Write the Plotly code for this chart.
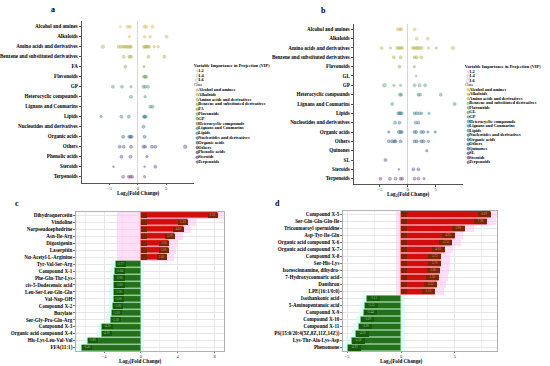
import plotly.graph_objects as go

FONT = "Liberation Serif"
W, H = 550, 366

# ---------------- data ----------------
a_classes = ["Alcohol and amines", "Alkaloids", "Amino acids and derivatives",
             "Benzene and substituted derivatives", "FA", "Flavonoids", "GP",
             "Heterocyclic compounds", "Lignans and Coumarins", "Lipids",
             "Nucleotides and derivatives", "Organic acids", "Others",
             "Phenolic acids", "Steroids", "Terpenoids"]
a_fc = [
    [-3.1, -1.8, -1.4, 1.2, 1.5, 2.6],
    [-1.5, 1.2, 2.2, 5.1],
    [-6.2, -3.4, -3.0, -2.6, -2.3, -2.0, -1.7, -1.4, -1.2, 1.1, 1.3, 1.5, 1.8, 2.0, 2.9, 3.6],
    [-2.5, -1.5, -1.2, 1.9, 4.7],
    [-2.2, 1.1],
    [1.1, 1.3, 1.5],
    [-4.4, -2.8, -1.2, 1.0, 1.3, 1.8],
    [-1.2, 1.3],
    [2.2, 2.6],
    [-6.5, -2.9, -1.6, 1.1, 1.2, 1.4],
    [1.0],
    [-2.6, -1.5, -1.3, -1.1, 1.2],
    [-3.2, -2.5, -1.2, 1.0, 1.3, 2.5, 3.1, 8.4],
    [-2.9, -1.3, 1.6],
    [-4.3, 1.2, 3.1],
    [-2.6, -1.6, -1.3, -1.0, 1.2],
]
a_vip = [
    [1.2, 1.4, 1.4, 1.4, 1.4, 1.4],
    [1.3, 1.3, 1.3, 1.4],
    [1.5, 1.4, 1.4, 1.4, 1.4, 1.4, 1.4, 1.4, 1.4, 1.4, 1.4, 1.4, 1.4, 1.4, 1.3, 1.3],
    [1.4, 1.4, 1.4, 1.4, 1.4],
    [1.4, 1.3],
    [1.4, 1.4, 1.4],
    [1.4, 1.4, 1.3, 1.4, 1.4, 1.4],
    [1.4, 1.3],
    [1.4, 1.4],
    [1.3, 1.4, 1.4, 1.4, 1.4, 1.4],
    [1.4],
    [1.4, 1.4, 1.4, 1.4, 1.4],
    [1.4, 1.4, 1.4, 1.4, 1.4, 1.4, 1.4, 1.5],
    [1.4, 1.4, 1.3],
    [1.2, 1.2, 1.4],
    [1.4, 1.4, 1.4, 1.4, 1.3],
]

b_classes = ["Alcohol and amines", "Alkaloids", "Amino acids and derivatives",
             "Benzene and substituted derivatives", "Flavonoids", "GL", "GP",
             "Heterocyclic compounds", "Lignans and Coumarins", "Lipids",
             "Nucleotides and derivatives", "Organic acids", "Others", "Quinones",
             "SL", "Steroids", "Terpenoids"]
b_fc = [
    [-1.8, -1.4, -1.2, 1.2],
    [1.6, 3.6],
    [-4.7, -3.1, -1.9, -1.6, -1.3, -1.0, 0.9, 1.2, 1.5, 1.8, 2.1, 2.5, 3.7, 5.1, 8.1],
    [-2.5, -1.3, 1.2, 1.6, 2.4],
    [-1.5, 1.2],
    [1.5],
    [-4.2, -2.5, -1.3, 1.2, 2.1, 3.1],
    [-1.4, -1.2, 1.9, 2.2, 5.9],
    [-2.8, 8.4],
    [-1.7, -1.5, -1.3, -1.1, 1.2, 1.6, 2.1, 2.5, 3.8],
    [-2.3, -1.5, 1.4, 1.9],
    [-3.4, -1.6, -1.3, -1.1, 1.2, 1.5, 2.4, 2.8, 3.6, 4.9],
    [-3.4, -2.8, -2.4, -2.2, -1.3, 1.2, 1.6, 2.4, 2.8, 3.7],
    [3.4],
    [-4.0],
    [-1.6, 1.0, 1.9],
    [-4.9, -3.2, -2.2, -1.3, -1.0, 1.2, 1.9, 2.9],
]
b_vip = [
    [1.4, 1.4, 1.4, 1.4],
    [1.4, 1.4],
    [1.4, 1.3, 1.4, 1.4, 1.4, 1.4, 1.4, 1.4, 1.4, 1.4, 1.4, 1.4, 1.3, 1.3, 1.5],
    [1.4, 1.4, 1.4, 1.4, 1.4],
    [1.4, 1.3],
    [1.2],
    [1.5, 1.3, 1.3, 1.4, 1.4, 1.4],
    [1.4, 1.4, 1.4, 1.4, 1.4],
    [1.4, 1.4],
    [1.4, 1.4, 1.4, 1.4, 1.4, 1.4, 1.4, 1.3, 1.3],
    [1.4, 1.4, 1.4, 1.4],
    [1.3, 1.4, 1.4, 1.4, 1.4, 1.4, 1.4, 1.4, 1.3, 1.3],
    [1.4, 1.4, 1.4, 1.4, 1.4, 1.4, 1.4, 1.4, 1.4, 1.3],
    [1.3],
    [1.4],
    [1.2, 1.4, 1.4],
    [1.4, 1.4, 1.4, 1.4, 1.4, 1.4, 1.4, 1.3],
]

vip_levels = [1.2, 1.4, 1.6]

c_names = ["Dihydroquercetin", "Vindoline", "Norpseudoephedrine", "Asn-Ile-Arg",
           "Digoxigenin", "Laserpitin", "Nα-Acetyl-L-Arginine", "Tyr-Val-Ser-Arg",
           "Compound X-1", "Phe-Gln-Thr-Lys", "cis-5-Dodecenoic acid",
           "Leu-Ser-Leu-Gln-Glu", "Val-Nap-OH", "Compound X-2", "Butylate",
           "Ser-Gly-Pro-Gln-Arg", "Compound X-3", "Organic acid compound X-4",
           "His-Lys-Leu-Val-Val", "FFA(11:1)"]
c_vals = [8.30, 5.10, 4.60, 3.70, 3.05, 3.00, 2.80, -2.77, -2.84, -2.90, -2.90,
          -2.95, -3.00, -3.02, -3.20, -3.30, -4.20, -4.30, -5.80, -6.40]

d_names = ["Compound X-5", "Ser-Gln-Gln-Gln-Ile", "Tricoumaroyl spermidine",
           "Asp-Tyr-Ile-Gln", "Organic acid compound X-6", "Organic acid compound X-7",
           "Compound X-8", "Ser-His-Lys", "Isorescinnamine, dihydro-",
           "7-Hydroxycoumaric acid", "Danthron", "LPE(16:1/0:0)", "Isothankonic acid",
           "5-Aminopentanoic acid", "Compound X-9", "Compound X-10", "Compound X-11",
           "PS(15:0/20:4(5Z,8Z,11Z,14Z))", "Lys-Thr-Ala-Lys-Asp", "Phenomone"]
d_vals = [8.29, 7.98, 5.90, 4.95, 4.74, 4.03, 3.72, 3.70, 3.60, 3.50, 3.35, 3.13,
          -3.13, -3.35, -3.44, -3.69, -3.90, -4.20, -4.58, -4.93]

# ---------------- styling helpers ----------------
anchors = ["#dcb04a", "#bdb142", "#93a944", "#639f5e", "#3f9475", "#368489",
           "#336c8f", "#394f8c", "#573f87", "#7b3a7d"]


def hex2rgb(h):
    return tuple(int(h[i:i + 2], 16) for i in (1, 3, 5))


def gradient(n):
    out = []
    for i in range(n):
        t = i / (n - 1) * (len(anchors) - 1)
        k = min(int(t), len(anchors) - 2)
        f = t - k
        c0, c1 = hex2rgb(anchors[k]), hex2rgb(anchors[k + 1])
        out.append(tuple(round(c0[j] + (c1[j] - c0[j]) * f) for j in range(3)))
    return out


def vip_size(v):
    return 1.8 + (v - 1.2) * 6.0


def px_x(p):
    return p / W


def px_y(p):
    return 1 - p / H


fig = go.Figure()

# ---------------- dot panels ----------------
def dot_panel(classes, fcs, vips, xa, ya):
    cols = gradient(len(classes))
    for cls, fc, vp, c in zip(classes, fcs, vips, cols):
        fig.add_trace(go.Scatter(
            x=fc, y=[cls] * len(fc), mode="markers", xaxis=xa, yaxis=ya,
            showlegend=False, cliponaxis=False,
            marker=dict(size=[vip_size(v) for v in vp],
                        color="rgba(%d,%d,%d,0.55)" % c,
                        line=dict(color="rgb(%d,%d,%d)" % c, width=0.5))))
    return cols


cols_a = dot_panel(a_classes, a_fc, a_vip, "x", "y")
cols_b = dot_panel(b_classes, b_fc, b_vip, "x2", "y2")


def legend_panel(classes, cols, xa, ya, mx, tx):
    rows = ["Variable Importance in Projection (VIP)"] + [str(v) for v in vip_levels] + ["Class"] + classes
    fig.add_trace(go.Scatter(x=[tx], y=[0], mode="text", text=["<b>" + rows[0] + "</b>"],
                             textposition="middle right", xaxis=xa, yaxis=ya,
                             showlegend=False, cliponaxis=True,
                             textfont=dict(family=FONT, size=4.4, color="black")))
    fig.add_trace(go.Scatter(x=[mx] * 3, y=[1, 2, 3], mode="markers", xaxis=xa, yaxis=ya,
                             showlegend=False, cliponaxis=True,
                             marker=dict(size=[vip_size(v) for v in vip_levels],
                                         color="rgba(200,200,200,0.4)",
                                         line=dict(color="#9a9a9a", width=0.5))))
    fig.add_trace(go.Scatter(x=[mx + 1.0] * 3, y=[1, 2, 3], mode="text",
                             text=["<b>%s</b>" % v for v in vip_levels],
                             textposition="middle right", xaxis=xa, yaxis=ya,
                             showlegend=False, cliponaxis=True,
                             textfont=dict(family=FONT, size=4.4, color="black")))
    fig.add_trace(go.Scatter(x=[tx], y=[4], mode="text", text=["Class"],
                             textposition="middle right", xaxis=xa, yaxis=ya,
                             showlegend=False, cliponaxis=True,
                             textfont=dict(family=FONT, size=3.8, color="black")))
    ys = list(range(5, 5 + len(classes)))
    fig.add_trace(go.Scatter(x=[mx] * len(classes), y=ys, mode="markers", xaxis=xa, yaxis=ya,
                             showlegend=False, cliponaxis=True,
                             marker=dict(size=2.6, color=["rgba(%d,%d,%d,0.6)" % c for c in cols],
                                         line=dict(color=["rgb(%d,%d,%d)" % c for c in cols],
                                                   width=0.5))))
    fig.add_trace(go.Scatter(x=[mx + 1.0] * len(classes), y=ys, mode="text",
                             text=["<b>%s</b>" % c for c in classes],
                             textposition="middle right", xaxis=xa, yaxis=ya,
                             showlegend=False, cliponaxis=True,
                             textfont=dict(family=FONT, size=4.4, color="black")))
    return len(rows)


na = legend_panel(a_classes, cols_a, "x5", "y5", 3.5, 0.0)
nb = legend_panel(b_classes, cols_b, "x6", "y6", 3.5, 0.0)

# ---------------- bar panels ----------------
def bar_panel(names, vals, xa, ya, pink_left, lw, base_box):
    pos = [v > 0 for v in vals]
    gb, gx, gc = [], [], []
    for v, p in zip(vals, pos):
        if p:
            lo, hi = pink_left, v + 0.8
            gc.append("rgba(255,196,240,0.55)")
        else:
            lo, hi = v - 0.5, 0.35
            gc.append("rgba(196,255,248,0.55)")
        gb.append(lo)
        gx.append(hi - lo)
    fig.add_trace(go.Bar(y=names, x=gx, base=gb, orientation="h", width=1.0,
                         marker=dict(color=gc, line=dict(width=0)), xaxis=xa, yaxis=ya,
                         showlegend=False))
    fig.add_trace(go.Bar(y=names, x=vals, orientation="h", width=0.86,
                         marker=dict(color=["#d10d0d" if p else "#22701a" for p in pos],
                                     line=dict(color=["#ff8a8a" if p else "#6fb35f" for p in pos],
                                               width=0.4)),
                         xaxis=xa, yaxis=ya, showlegend=False))
    fig.add_trace(go.Bar(y=names, x=[lw] * len(vals),
                         base=[v - lw if p else v for v, p in zip(vals, pos)],
                         orientation="h", width=0.78,
                         marker=dict(color=["#7a2606" if p else "#155a0d" for p in pos],
                                     line=dict(width=0)),
                         xaxis=xa, yaxis=ya, showlegend=False))
    fig.add_trace(go.Scatter(y=names, x=[v - lw / 2 if p else v + lw / 2 for v, p in zip(vals, pos)],
                             mode="text", text=["%.2f" % v for v in vals],
                             textposition="middle center",
                             textfont=dict(family=FONT, size=3.2,
                                           color=["#d09a78" if p else "#93c983" for p in pos]),
                             xaxis=xa, yaxis=ya, showlegend=False, cliponaxis=False))
    if base_box:
        pn = [n for n, p in zip(names, pos) if p]
        fig.add_trace(go.Bar(y=pn, x=[base_box] * len(pn), orientation="h", width=0.78,
                             marker=dict(color="#7a2606", line=dict(width=0)),
                             xaxis=xa, yaxis=ya, showlegend=False))


bar_panel(c_names, c_vals, "x3", "y3", -2.6, 1.1, 0.6)
bar_panel(d_names, d_vals, "x4", "y4", -0.5, 1.2, 0.5)

# ---------------- layout ----------------
tickf = dict(family=FONT, size=4.6, color="#333333")
cat_f = dict(family=FONT, size=5.1, weight="bold", color="black")
xtitle = "<b>Log<sub>2</sub>(Fold Change)</b>"


def dot_x(dom, rng):
    return dict(domain=dom, range=rng, tickvals=[-5, 0, 5], showline=True,
                linecolor="#555555", linewidth=0.7, ticks="outside", ticklen=1.5,
                tickwidth=0.6, tickcolor="#555555", tickfont=tickf, showgrid=False,
                zeroline=True, zerolinecolor="#d6d6d6", zerolinewidth=0.6,
                ticklabelstandoff=-1)


def dot_y(dom, cats, anchor):
    return dict(domain=dom, type="category", categoryorder="array", categoryarray=cats,
                range=[len(cats) - 0.4, -0.6], showline=True, linecolor="#555555",
                linewidth=0.7, ticks="outside", ticklen=2, tickwidth=0.6,
                tickcolor="#555555", tickfont=cat_f, showgrid=False, zeroline=False,
                anchor=anchor)


def bar_x(dom, rng, dt):
    return dict(domain=dom, range=rng, dtick=dt, tick0=0, showline=True, mirror=True,
                linecolor="#b0b0b0", linewidth=0.7, ticks="outside", ticklen=1.5,
                tickwidth=0.6, tickcolor="#777777", tickfont=tickf, showgrid=True,
                gridcolor="#e6e6e6", gridwidth=0.5, zeroline=False, ticklabelstandoff=-1,
                minor=dict(dtick=dt / 2, showgrid=True, gridcolor="#f1f1f1", gridwidth=0.4))


def bar_y(dom, cats, anchor):
    return dict(domain=dom, type="category", categoryorder="array", categoryarray=cats,
                range=[len(cats) - 0.5, -0.5], showline=True, mirror=True,
                linecolor="#b0b0b0", linewidth=0.7, ticks="outside", ticklen=1.5,
                tickwidth=0.5, tickcolor="#777777", tickfont=cat_f, showgrid=True,
                gridcolor="#e6e6e6", gridwidth=0.5, zeroline=False, anchor=anchor)


def hidden(dom, rng, anchor):
    return dict(domain=dom, range=rng, visible=False, showgrid=False, zeroline=False,
                fixedrange=True, anchor=anchor)


def label(text, x, y, size):
    return dict(text=text, x=px_x(x), y=px_y(y), xref="paper", yref="paper",
                showarrow=False, font=dict(family=FONT, size=size, color="black"),
                xanchor="center", yanchor="middle")


fig.update_layout(
    width=W, height=H, margin=dict(l=0, r=0, t=0, b=0),
    paper_bgcolor="white", plot_bgcolor="rgba(0,0,0,0)",
    barmode="overlay", bargap=0, showlegend=False,
    xaxis=dict(dot_x([px_x(80), px_x(193)], [-9.93, 10.0]), anchor="y"),
    yaxis=dot_y([px_y(182.7), px_y(20.7)], a_classes, "x"),
    xaxis2=dict(dot_x([px_x(353), px_x(463)], [-9.7, 9.95]), anchor="y2"),
    yaxis2=dot_y([px_y(184.3), px_y(23.7)], b_classes, "x2"),
    xaxis3=dict(bar_x([px_x(74), px_x(223.3)], [-7.07, 9.07], 4), anchor="y3"),
    yaxis3=bar_y([px_y(351), px_y(212)], c_names, "x3"),
    xaxis4=dict(bar_x([px_x(342), px_x(497.3)], [-5.4, 8.94], 5), anchor="y4"),
    yaxis4=bar_y([px_y(351), px_y(210.7)], d_names, "x4"),
    xaxis5=hidden([px_x(192.5), px_x(271)], [0, 78.5], "y5"),
    yaxis5=hidden([px_y(61.2 + 4.8 * 22), px_y(61.2)], [na, -1], "x5"),
    xaxis6=hidden([px_x(464.5), 1.0], [0, 85.5], "y6"),
    yaxis6=hidden([px_y(62.46 + 4.54 * 23), px_y(62.46)], [nb, -1], "x6"),
    annotations=[
        label("<b>a</b>", 50.7, 9.5, 8),
        label("<b>b</b>", 323, 10, 8),
        label("<b>c</b>", 15, 204, 8),
        label("<b>d</b>", 277, 204, 8),
        label(xtitle, 136.5, 193.6, 5.2),
        label(xtitle, 408, 194.2, 5.2),
        label(xtitle, 139, 361.4, 5.2),
        label(xtitle, 401, 361.4, 5.2),
    ],
)

fig.write_html("out.html", config={"displayModeBar": False},
               post_script="document.body.style.margin='0';document.body.style.padding='0';")
